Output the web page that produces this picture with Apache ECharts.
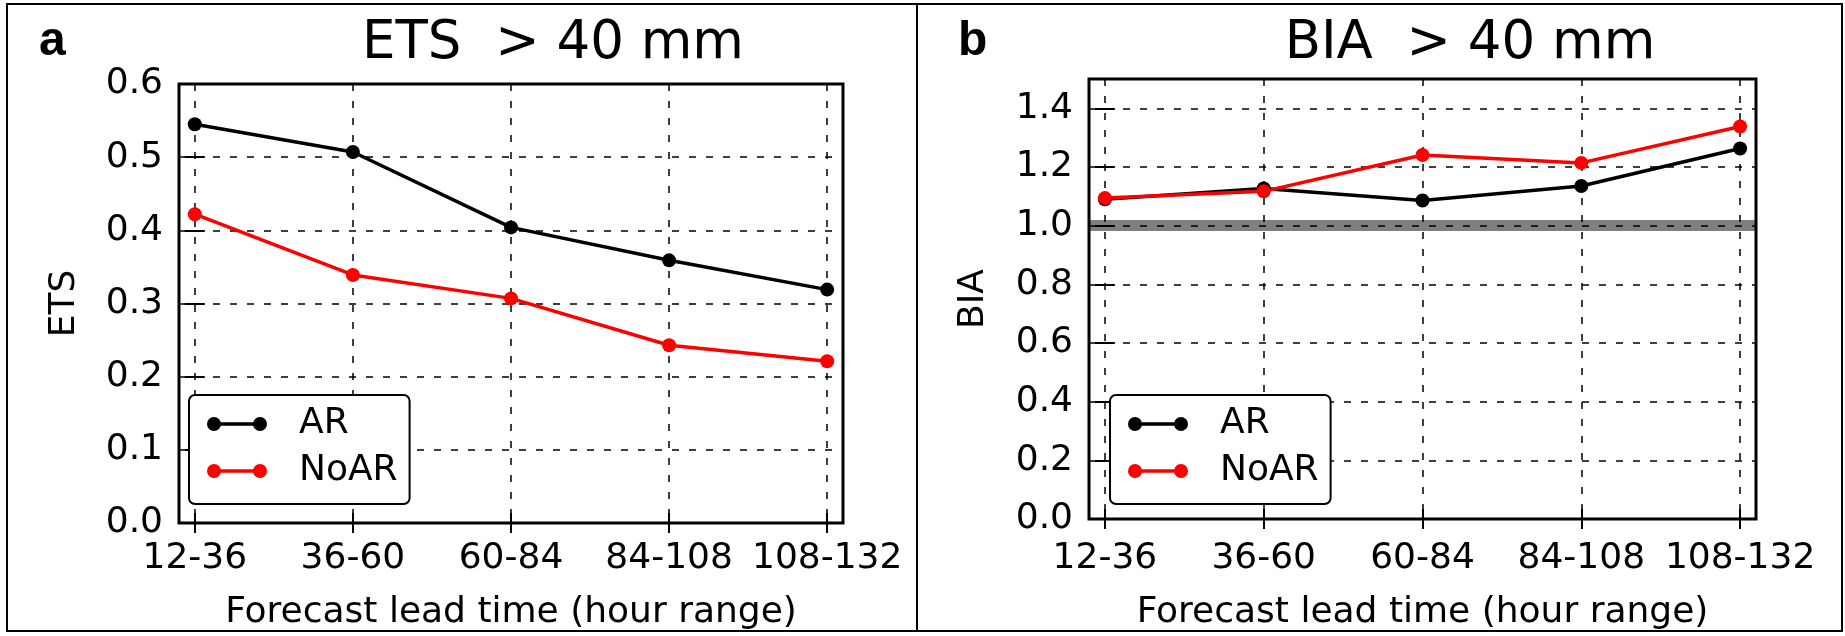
<!DOCTYPE html>
<html>
<head>
<meta charset="utf-8">
<title>ETS / BIA > 40 mm</title>
<script src="https://cdn.jsdelivr.net/npm/echarts@6/dist/echarts.min.js"></script>
<style>
  html, body { margin: 0; padding: 0; background: #fff; }
  #main { width: 1845px; height: 636px; }
</style>
</head>
<body>
<div id="main"></div>
<script>
// forecast lead time ranges (x tick labels)
var categories = ['12-36', '36-60', '60-84', '84-108', '108-132']
var tickIdx = [0, 1, 2, 3, 4]

// panel a: ETS
var etsAR = [0.545, 0.507, 0.404, 0.359, 0.319]
var etsNoAR = [0.422, 0.339, 0.307, 0.243, 0.221]

// panel b: BIA
var biaAR = [1.090, 1.127, 1.086, 1.135, 1.263]
var biaNoAR = [1.094, 1.117, 1.241, 1.214, 1.338]
var biaRef = 1.0

var FONT = 'DejaVu Sans'
var RED = '#ff0000'
// line with a dot at each end, like matplotlib's legend handle
var legendIcon = 'path://M0,7A7,7 0 1,1 14,7A7,7 0 1,1 0,7Z M46,7A7,7 0 1,1 60,7A7,7 0 1,1 46,7Z M13,5.2L47,5.2L47,8.8L13,8.8Z'

function pairs(values) {
  return values.map(function(v, i) {
    return [i, v]
  })
}

function xAxes(gridIndex, nameGap, labelMargin) {
  return [{
    type: 'value',
    gridIndex: gridIndex,
    min: -0.1,
    max: 4.1,
    name: 'Forecast lead time (hour range)',
    nameLocation: 'middle',
    nameGap: nameGap,
    nameTextStyle: { fontFamily: FONT, fontSize: 36, color: '#000' },
    axisLine: { show: false },
    axisTick: { inside: true, length: 10, lineStyle: { color: '#000', width: 2 }, customValues: tickIdx },
    axisLabel: {
      customValues: tickIdx,
      margin: labelMargin,
      fontFamily: FONT,
      fontSize: 36,
      color: '#000',
      formatter: function(v) {
        return categories[Math.round(v)]
      }
    },
    splitLine: { show: true, lineStyle: { color: '#000', width: 1.5, type: [7, 10] } }
  }, {
    type: 'value',
    gridIndex: gridIndex,
    position: 'top',
    min: -0.1,
    max: 4.1,
    axisLine: { show: false },
    axisTick: { inside: true, length: 10, lineStyle: { color: '#000', width: 2 }, customValues: tickIdx },
    axisLabel: { show: false, customValues: tickIdx },
    splitLine: { show: false }
  }]
}

function yAxes(gridIndex, name, max, interval, nameGap) {
  return [{
    type: 'value',
    gridIndex: gridIndex,
    min: 0,
    max: max,
    interval: interval,
    name: name,
    nameLocation: 'middle',
    nameGap: nameGap,
    nameTextStyle: { fontFamily: FONT, fontSize: 36, color: '#000' },
    axisLine: { show: false },
    axisTick: { show: true, inside: true, length: 10, lineStyle: { color: '#000', width: 2 } },
    axisLabel: {
      margin: 16,
      fontFamily: FONT,
      fontSize: 36,
      color: '#000',
      showMaxLabel: max === 0.6,
      formatter: function(v) {
        return v.toFixed(1)
      }
    },
    splitLine: { show: true, lineStyle: { color: '#000', width: 1.5, type: [7, 10] } }
  }, {
    type: 'value',
    gridIndex: gridIndex,
    position: 'right',
    min: 0,
    max: max,
    interval: interval,
    axisLine: { show: false },
    axisTick: { show: true, inside: true, length: 10, lineStyle: { color: '#000', width: 2 } },
    axisLabel: { show: false },
    splitLine: { show: false }
  }]
}

function lineSeries(name, values, color, xi, yi, extra) {
  var s = {
    name: name,
    type: 'line',
    xAxisIndex: xi,
    yAxisIndex: yi,
    data: pairs(values),
    symbol: 'circle',
    symbolSize: 14,
    color: color,
    lineStyle: { color: color, width: 3.5 },
    itemStyle: { color: color },
    z: 5
  }
  return Object.assign(s, extra || {})
}

function legendFor(left, top) {
  return {
    left: left,
    top: top,
    orient: 'vertical',
    selectedMode: false,
    data: ['AR', 'NoAR'],
    icon: legendIcon,
    itemWidth: 60,
    itemHeight: 14,
    itemGap: 11,
    padding: [11, 12, 15, 18],
    backgroundColor: '#fff',
    borderColor: '#000',
    borderWidth: 2,
    borderRadius: 6,
    textStyle: { fontFamily: FONT, fontSize: 36, color: '#000', lineHeight: 36, padding: [0, 0, 0, 27] },
    z: 10
  }
}

var chart = echarts.init(document.getElementById('main'))

chart.setOption({
  animation: false,
  backgroundColor: '#fff',
  grid: [
    { left: 179, top: 84, width: 664, height: 439, show: true, borderColor: '#000', borderWidth: 3, backgroundColor: 'transparent' },
    { left: 1089, top: 79, width: 667, height: 441, show: true, borderColor: '#000', borderWidth: 3, backgroundColor: 'transparent' }
  ],
  xAxis: xAxes(0, 72, 18).concat(xAxes(1, 76, 22)),
  yAxis: yAxes(0, 'ETS', 0.6, 0.1, 96).concat(yAxes(1, 'BIA', 1.5, 0.2, 97)),
  legend: [legendFor(189, 395), legendFor(1110, 395)],
  series: [
    lineSeries('AR', etsAR, '#000', 0, 0),
    lineSeries('NoAR', etsNoAR, RED, 0, 0),
    lineSeries('AR', biaAR, '#000', 2, 2, {
      markLine: {
        silent: true,
        symbol: 'none',
        label: { show: false },
        lineStyle: { color: 'rgba(0,0,0,0.5)', width: 11, type: 'solid' },
        data: [{ yAxis: biaRef }],
        z: 1
      }
    }),
    lineSeries('NoAR', biaNoAR, RED, 2, 2)
  ],
  graphic: [
    { type: 'rect', shape: { x: 7, y: 4, width: 1835, height: 627 }, style: { fill: 'none', stroke: '#000', lineWidth: 2 }, z: 100 },
    { type: 'line', shape: { x1: 917, y1: 4, x2: 917, y2: 631 }, style: { stroke: '#000', lineWidth: 2 }, z: 100 },
    { type: 'text', x: 39, y: 42, style: { text: 'a', font: 'bold 48px "Liberation Sans"', fill: '#000', align: 'left', verticalAlign: 'middle' } },
    { type: 'text', x: 958, y: 42, style: { text: 'b', font: 'bold 48px "Liberation Sans"', fill: '#000', align: 'left', verticalAlign: 'middle' } },
    { type: 'text', x: 553, y: 44, style: { text: 'ETS  > 40 mm', font: '53px "DejaVu Sans"', fill: '#000', align: 'center', verticalAlign: 'middle' } },
    { type: 'text', x: 1470, y: 44, style: { text: 'BIA  > 40 mm', font: '53px "DejaVu Sans"', fill: '#000', align: 'center', verticalAlign: 'middle' } }
  ]
})
</script>
</body>
</html>
